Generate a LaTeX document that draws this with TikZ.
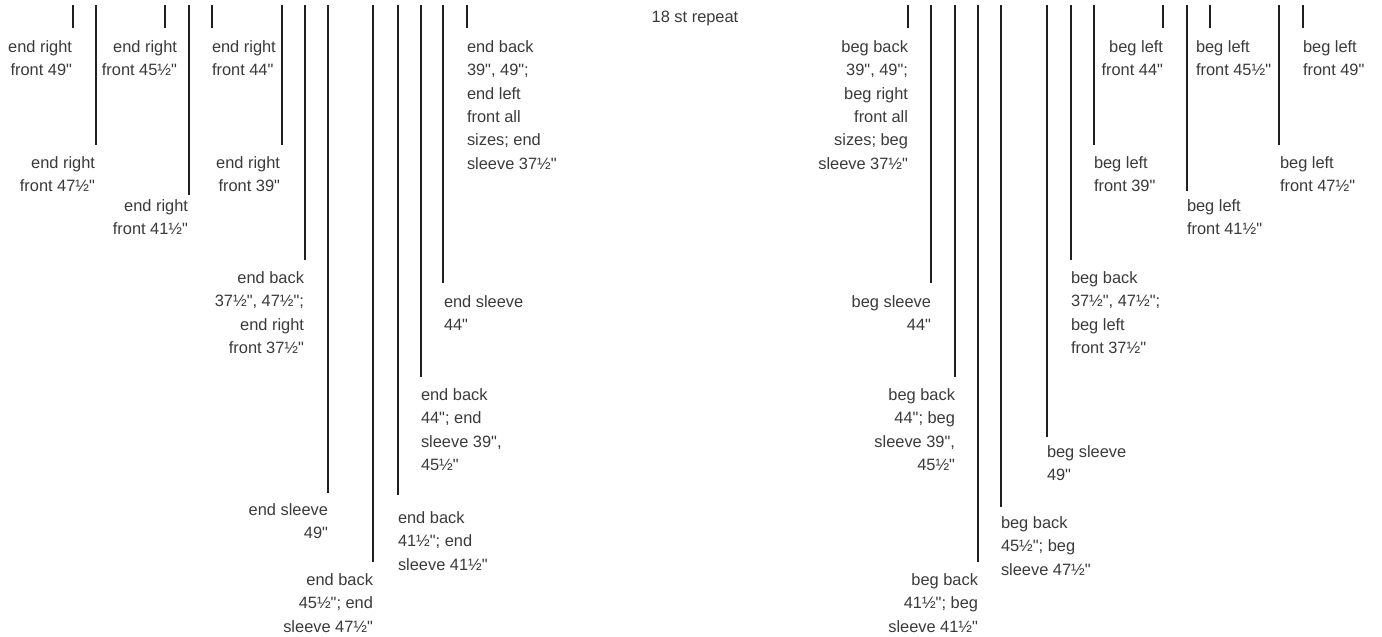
\documentclass[tikz,border=0pt]{standalone}
\usepackage{fontspec}
\newfontfamily\labfont{Liberation Sans}
\definecolor{txt}{HTML}{3A3A3A}
\definecolor{ink}{HTML}{231F20}
\tikzset{
  vline/.style={draw=ink, line width=1.75pt},
  lbl/.style={inner sep=0pt, outer sep=0pt, text=txt, font=\labfont\fontsize{12.3pt}{17.5pt}\selectfont},
  lblr/.style={lbl, align=right, anchor=base east},
  lbll/.style={lbl, align=left, anchor=base west}
}
\def\ls{23.33}
\begin{document}
\begin{tikzpicture}[x=0.75pt,y=-0.75pt]
\useasboundingbox (0,0) rectangle (1382,636);
% vertical marker lines
\foreach \n/\x/\y in {l1/73/28, l2/96/145, l3/165/28, l4/189/195, l5/212/28, l6/282/145,
  l7/305/260, l8/328/493, l9/373/562, l10/398/495, l11/421/377, l12/443/283, l13/467/28,
  r1/908/28, r2/931/283, r3/955/377, r4/978/562, r5/1001/507, r6/1047/437, r7/1071/260,
  r8/1094/145, r9/1163/28, r10/1187/191, r11/1210/28, r12/1279/145, r13/1303/28}{
  \coordinate (top-\n) at (\x,5);
  \coordinate (bot-\n) at (\x,\y);
  \draw[vline] (top-\n) -- (bot-\n);
}
% left labels (anchored at the baseline of the last line)
\node[lblr] (a) at (72,52.5+\ls) {end right\\front 49"};
\node[lblr] (b) at (177,52.5+\ls) {end right\\front 45½"};
\node[lbll] (c) at (212,52.5+\ls) {end right\\front 44"};
\node[lblr] (d) at (95,168.5+\ls) {end right\\front 47½"};
\node[lblr] (e) at (188,211.5+\ls) {end right\\front 41½"};
\node[lblr] (f) at (280,168.5+\ls) {end right\\front 39"};
\node[lblr] (g) at (304,283.5+3*\ls) {end back\\37½", 47½";\\end right\\front 37½"};
\node[lblr] (h) at (328,515.5+\ls) {end sleeve\\49"};
\node[lblr] (i) at (373,585.5+2*\ls) {end back\\45½"; end\\sleeve 47½"};
\node[lbll] (j) at (398,523.5+2*\ls) {end back\\41½"; end\\sleeve 41½"};
\node[lbll] (k) at (421,400.5+3*\ls) {end back\\44"; end\\sleeve 39",\\45½"};
\node[lbll] (l) at (444,307.5+\ls) {end sleeve\\44"};
\node[lbll] (m) at (467,52.5+5*\ls) {end back\\39", 49";\\end left\\front all\\sizes; end\\sleeve 37½"};
\node[lbl, anchor=base] (rep) at (695,22.5) {18 st repeat};
% right labels
\node[lblr] (o) at (908,52.5+5*\ls) {beg back\\39", 49";\\beg right\\front all\\sizes; beg\\sleeve 37½"};
\node[lblr] (p) at (931,307.5+\ls) {beg sleeve\\44"};
\node[lblr] (q) at (955,400.5+3*\ls) {beg back\\44"; beg\\sleeve 39",\\45½"};
\node[lblr] (r) at (978,585.5+2*\ls) {beg back\\41½"; beg\\sleeve 41½"};
\node[lbll] (s) at (1001,528.5+2*\ls) {beg back\\45½"; beg\\sleeve 47½"};
\node[lbll] (t) at (1047,457.5+\ls) {beg sleeve\\49"};
\node[lbll] (u) at (1071,283.5+3*\ls) {beg back\\37½", 47½";\\beg left\\front 37½"};
\node[lblr] (v) at (1163,52.5+\ls) {beg left\\front 44"};
\node[lbll] (w) at (1094,168.5+\ls) {beg left\\front 39"};
\node[lbll] (x) at (1196,52.5+\ls) {beg left\\front 45½"};
\node[lbll] (y) at (1187,211.5+\ls) {beg left\\front 41½"};
\node[lbll] (z) at (1303,52.5+\ls) {beg left\\front 49"};
\node[lbll] (aa) at (1280,168.5+\ls) {beg left\\front 47½"};
\end{tikzpicture}
\end{document}
